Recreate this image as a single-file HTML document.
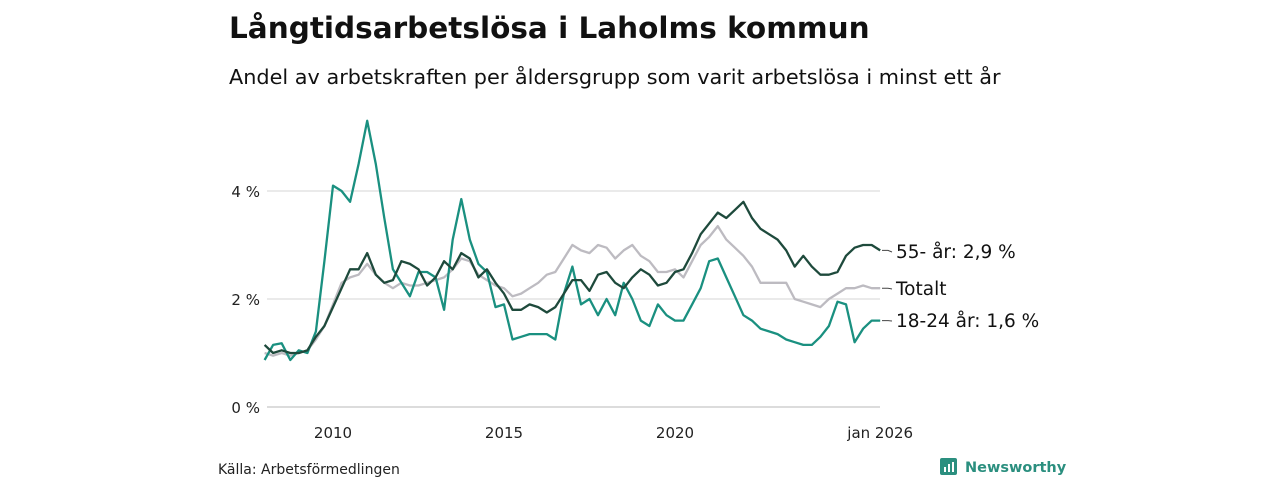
<!DOCTYPE html>
<html><head><meta charset="utf-8"><style>
html,body{margin:0;padding:0;background:#fff;width:1280px;height:480px;overflow:hidden;font-family:"Liberation Sans",sans-serif;}
</style></head><body>
<svg id="chart" width="1280" height="480" xmlns="http://www.w3.org/2000/svg" font-family="'DejaVu Sans','Liberation Sans',sans-serif">
<text x="229" y="38" font-size="29.5" font-weight="bold" fill="#111">Långtidsarbetslösa i Laholms kommun</text>
<text x="229" y="84" font-size="20.8" fill="#111">Andel av arbetskraften per åldersgrupp som varit arbetslösa i minst ett år</text>
<g id="grid"></g><g id="xaxis"></g><g id="lines"></g><g id="labels"></g>
<text x="218" y="474" font-size="14" fill="#222">Källa: Arbetsförmedlingen</text>
<g>
<rect x="940" y="458" width="17" height="17" rx="2" fill="#2b8f7f"/>
<rect x="944" y="467" width="2" height="5" fill="#fff"/><rect x="948" y="464" width="2" height="8" fill="#fff"/><rect x="952" y="462" width="2" height="10" fill="#fff"/>
<text x="965" y="472" font-size="14.5" font-weight="bold" fill="#2b8f7f">Newsworthy</text>
</g>
</svg>
<script>
const startYear = 2008.0, stepYears = 0.25;
const yTicks = [0, 2, 4];
const yTickLabels = ["0 %", "2 %", "4 %"];
const xTicks = [2010, 2015, 2020, 2026];
const xTickLabels = ["2010", "2015", "2020", "jan 2026"];
const youth = [.87,1.15,1.18,.87, 1.05,1.0,1.4,2.7, 4.1,4.0,3.8,4.5, 5.3,4.5,3.5,2.55, 2.3,2.05,2.5,2.5, 2.4,1.8,3.1,3.85, 3.1,2.65,2.5,1.85, 1.9,1.25,1.3,1.35, 1.35,1.35,1.25,2.1, 2.6,1.9,2.0,1.7, 2.0,1.7,2.3,2.0, 1.6,1.5,1.9,1.7, 1.6,1.6,1.9,2.2, 2.7,2.75,2.4,2.05, 1.7,1.6,1.45,1.4, 1.35,1.25,1.2,1.15, 1.15,1.3,1.5,1.95, 1.9,1.2,1.45,1.6, 1.6];
const elder = [1.15,1.0,1.05,1.0, 1.0,1.05,1.3,1.5, 1.85,2.2,2.55,2.55, 2.85,2.45,2.3,2.35, 2.7,2.65,2.55,2.25, 2.4,2.7,2.55,2.85, 2.75,2.4,2.55,2.3, 2.1,1.8,1.8,1.9, 1.85,1.75,1.85,2.1, 2.35,2.35,2.15,2.45, 2.5,2.3,2.2,2.4, 2.55,2.45,2.25,2.3, 2.5,2.55,2.85,3.2, 3.4,3.6,3.5,3.65, 3.8,3.5,3.3,3.2, 3.1,2.9,2.6,2.8, 2.6,2.45,2.45,2.5, 2.8,2.95,3.0,3.0, 2.9];
const total = [1.0,.95,1.0,.95, 1.0,1.05,1.25,1.5, 1.9,2.3,2.4,2.45, 2.65,2.45,2.3,2.2, 2.3,2.25,2.25,2.3, 2.35,2.4,2.55,2.75, 2.7,2.45,2.35,2.25, 2.2,2.05,2.1,2.2, 2.3,2.45,2.5,2.75, 3.0,2.9,2.85,3.0, 2.95,2.75,2.9,3.0, 2.8,2.7,2.5,2.5, 2.55,2.4,2.7,3.0, 3.15,3.35,3.1,2.95, 2.8,2.6,2.3,2.3, 2.3,2.3,2.0,1.95, 1.9,1.85,2.0,2.1, 2.2,2.2,2.25,2.2, 2.2];
const seriesLabels = ["55- år: 2,9 %", "Totalt", "18-24 år: 1,6 %"];

const NS = "http://www.w3.org/2000/svg";
const x = t => 333 + (t - 2010) * 34.2;
const y = v => 407 - v * 54;
function mk(tag, attrs, parent) { const e = document.createElementNS(NS, tag); for (const k in attrs) e.setAttribute(k, attrs[k]); parent.appendChild(e); return e; }
const grid = document.getElementById('grid');
yTicks.forEach((v, i) => {
  const l = mk('line', {x1: 267, x2: 880, y1: y(v), y2: y(v), stroke: v === 0 ? '#c8c8c8' : '#dedede', 'stroke-width': 1.3}, grid);
  
  
  const t = mk('text', {x: 260, y: y(v) + 6, 'text-anchor': 'end', 'font-size': 15, fill: '#222'}, grid);
  t.textContent = yTickLabels[i];
  
  
});
const xa = document.getElementById('xaxis');
xTicks.forEach((v, i) => {
  const t = mk('text', {x: x(v), y: 438, 'text-anchor': 'middle', 'font-size': 15, fill: '#222'}, xa);
  t.textContent = xTickLabels[i];
  
  
});
const lines = document.getElementById('lines');
function draw(vals, color, name) {
  const d = vals.map((v, i) => (i ? 'L' : 'M') + x(startYear + i * stepYears).toFixed(1) + ',' + y(v).toFixed(1)).join('');
  const p = mk('path', {d: d, fill: 'none', stroke: color, 'stroke-width': 2.3, 'stroke-linejoin': 'round'}, lines);
  
  
}
draw(total, '#bdbbc1', 'line-totalt');
draw(youth, '#1a9080', 'line-18-24');
draw(elder, '#1e4a3c', 'line-55-plus');
const lab = document.getElementById('labels');
const ends = [elder, total, youth];
const labelYs = [252, 289, 321];
ends.forEach((arr, i) => {
  const yv = y(arr[arr.length - 1]);
  const l = mk('path', {d: `M882,${yv}L888,${yv}L892,${labelYs[i]}`, fill: 'none', stroke: '#444', 'stroke-width': 1}, lab);
  
  
  const t = mk('text', {x: 896, y: labelYs[i] + 6, 'font-size': 18.5, fill: '#111'}, lab);
  t.textContent = seriesLabels[i];
  
  
});
</script>
</body></html>
